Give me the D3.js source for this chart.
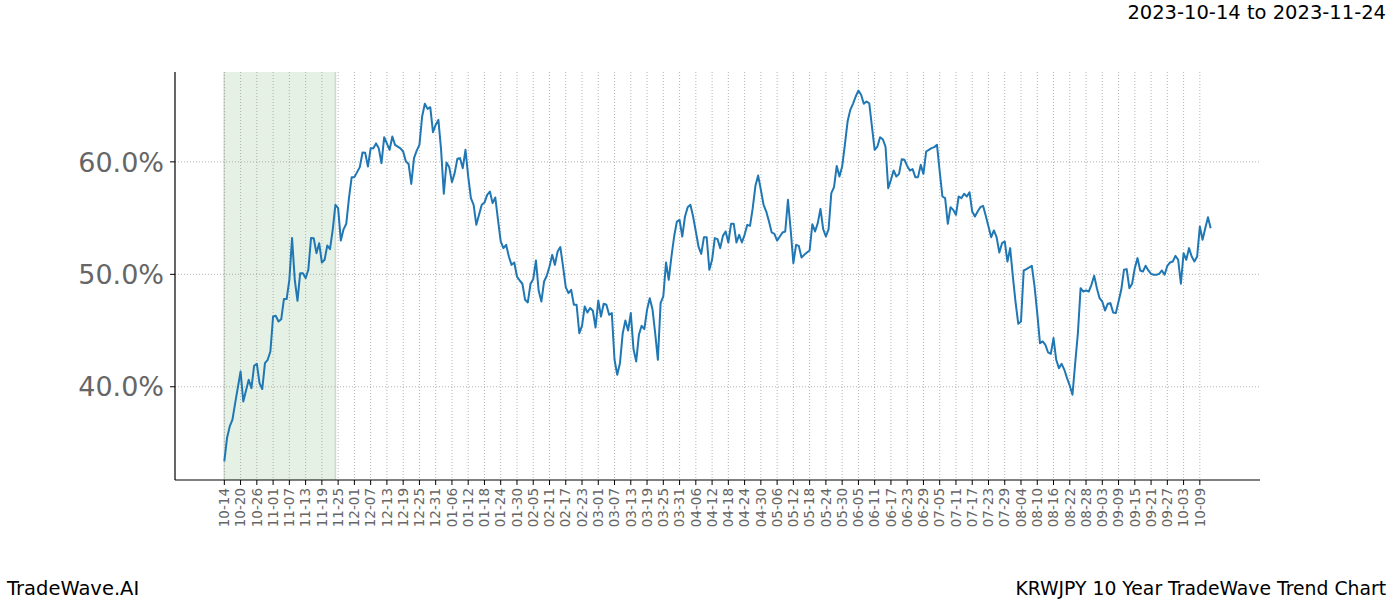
<!DOCTYPE html>
<html><head><meta charset="utf-8">
<script src="https://cdn.jsdelivr.net/npm/d3@7"></script>
<style>
html,body{margin:0;padding:0;background:#fff;}
svg{display:block;font-family:"DejaVu Sans",sans-serif;}
</style></head>
<body>
<svg id="chart" width="1400" height="600"></svg>
<script>
const titleText = "2023-10-14 to 2023-11-24";
const footerLeft = "TradeWave.AI";
const footerRight = "KRWJPY 10 Year TradeWave Trend Chart";
const highlightDays = [0, 41];
const yTicks = [40, 50, 60];
const tickLabels = ["10-14","10-20","10-26","11-01","11-07","11-13","11-19","11-25","12-01","12-07","12-13","12-19","12-25","12-31","01-06","01-12","01-18","01-24","01-30","02-05","02-11","02-17","02-23","03-01","03-07","03-13","03-19","03-25","03-31","04-06","04-12","04-18","04-24","04-30","05-06","05-12","05-18","05-24","05-30","06-05","06-11","06-17","06-23","06-29","07-05","07-11","07-17","07-23","07-29","08-04","08-10","08-16","08-22","08-28","09-03","09-09","09-15","09-21","09-27","10-03","10-09"];
const tickStep = 6;
const days = [0,1,2,3,4,6,7,9,10,11,12,13,14,15,16,17,18,19,20,21,22,23,24,25,26,27,28,29,30,31,32,33,34,35,36,37,38,39,40,41,42,43,44,45,46,47,48,50,51,52,53,54,55,56,57,58,59,
61,62,63,65,66,67,68,69,70,71,72,73,74,75,76,77,78,79,80,81,82,83,84,85,86,87,88,89,90,91,92,93,94,95,96,97,98,99,100,101,102,103,104,105,106,107,108,109,110,111,112,113,114,115,116,117,118,119,120,
121,122,123,124,125,126,127,128,129,130,131,132,133,134,135,136,137,138,139,140,141,142,143,144,145,146,147,148,149,150,151,152,153,154,155,156,157,158,159,160,161,162,163,164,165,166,167,168,169,170,171,172,173,174,175,176,177,178,179,180,181,182,
183,184,185,186,187,188,189,190,191,192,193,194,195,196,197,198,199,200,201,202,203,204,205,206,207,208,209,210,211,212,213,214,215,216,217,218,219,220,221,222,223,224,225,226,227,228,229,230,231,232,233,234,235,236,237,238,239,240,241,242,243,
244,245,246,247,248,249,250,251,252,253,254,255,256,257,258,259,260,261,262,263,264,265,266,267,268,269,270,271,272,273,274,275,276,277,278,279,280,281,282,283,284,285,286,287,288,289,290,291,292,293,294,295,296,298,299,300,301,302,303,
304,305,306,307,308,309,310,311,312,313,314,315,316,317,318,319,320,321,322,323,324,325,326,327,328,329,330,331,332,333,334,335,336,337,338,339,340,341,342,343,344,345,346,347,348,349,350,351,352,353,354,355,356,357,358,359,360,361,362,363,364];
const values = [33.36,35.44,36.47,37.07,38.55,41.36,38.69,40.62,39.88,41.87,42.04,40.33,39.8,42.1,42.4,43.14,46.25,46.31,45.8,46.0,47.8,47.8,49.51,53.22,49.51,47.64,50.1,50.1,49.66,50.4,53.22,53.2,51.88,52.77,51.05,51.29,52.56,52.24,53.96,56.18,55.88,53.0,54.0,54.49,56.77,58.64,58.64,59.53,60.83,60.8,59.58,61.2,61.2,61.64,61.2,59.88,62.19,
61.07,62.25,61.51,61.2,60.92,60.03,59.82,58.04,60.33,61.0,61.51,64.03,65.16,64.71,64.86,62.64,63.29,63.73,61.07,57.16,59.94,59.53,58.2,59.0,60.27,60.33,59.44,61.07,58.7,56.77,56.18,54.4,55.29,56.18,56.38,57.07,57.36,56.33,56.83,54.84,52.92,52.33,52.62,51.58,50.84,51.05,49.8,49.45,49.16,47.73,47.5,49.16,49.57,51.23,48.56,47.58,49.36,49.87,50.7,
51.73,50.84,52.03,52.42,50.7,48.86,48.33,48.62,47.29,47.29,44.77,45.42,47.14,46.6,47.0,46.76,45.27,47.67,46.25,47.38,47.29,46.4,46.55,42.4,41.07,42.1,44.71,45.9,45.0,46.55,43.35,42.25,44.62,45.42,45.13,46.84,47.88,46.9,44.77,42.4,47.44,48.03,51.05,49.51,51.58,53.36,54.69,54.84,53.36,55.14,55.97,56.18,55.14,53.81,52.47,51.82,53.3,53.3,50.4,51.29,53.22,53.13,
52.33,53.42,53.81,52.83,54.49,54.49,52.83,53.51,52.83,53.51,54.4,54.31,55.88,57.87,58.78,57.51,56.18,55.58,54.69,53.72,53.6,53.0,53.36,53.72,53.81,56.62,53.96,51.0,52.62,52.53,51.49,51.73,51.94,52.12,54.46,53.81,54.55,55.82,54.01,53.36,54.01,57.22,57.75,59.64,58.7,59.58,61.51,63.58,64.62,65.16,65.81,66.34,65.96,65.16,65.36,65.21,63.14,61.07,61.36,62.19,62.01,
61.36,57.66,58.4,59.23,58.7,58.93,60.24,60.18,59.64,59.23,59.35,58.64,58.64,59.73,58.93,60.92,61.07,61.22,61.31,61.51,59.14,56.92,56.77,54.49,55.97,55.73,55.29,56.92,56.77,57.16,56.92,57.3,55.58,55.14,55.58,55.97,56.09,55.2,54.25,53.3,53.9,53.3,51.94,52.77,52.92,51.14,52.33,49.8,47.5,45.6,45.8,50.34,50.46,50.76,48.92,46.55,43.88,44.03,43.73,
43.05,42.93,44.33,42.4,41.66,42.04,41.51,40.77,40.09,39.29,42.1,44.77,48.77,48.47,48.56,48.47,49.07,49.87,48.77,47.88,47.58,46.78,47.38,47.44,46.6,46.55,47.58,48.62,50.4,50.46,48.77,49.16,50.55,51.44,50.34,50.25,50.76,50.34,50.04,49.96,49.96,50.04,50.34,49.96,50.76,51.05,51.14,51.64,51.29,49.16,51.88,51.29,52.33,51.58,51.14,51.58,54.25,53.07,54.1,55.08,54.1];

const svg = d3.select("#chart");
const mLeft = 175, mRight = 1260, mTop = 72, mBottom = 480;
const n = Math.min(days.length, values.length);
const lastDay = d3.max(days), firstDay = d3.min(days);
const xpad = (lastDay - firstDay) * 0.05;
const x = d3.scaleLinear().domain([firstDay - xpad, lastDay + xpad]).range([mLeft, mRight]);
const vmin = d3.min(values), vmax = d3.max(values);
const ypad = (vmax - vmin) * 0.05;
const y = d3.scaleLinear().domain([vmin - ypad, vmax + ypad]).range([mBottom, mTop]);

// highlight span
svg.append("rect")
  .attr("x", x(highlightDays[0])).attr("y", mTop)
  .attr("width", x(highlightDays[1]) - x(highlightDays[0])).attr("height", mBottom - mTop)
  .attr("fill", "#e5f1e5");
highlightDays.forEach(d => {
  svg.append("line").attr("x1", x(d)).attr("x2", x(d)).attr("y1", mTop).attr("y2", mBottom)
    .attr("stroke", "#cfd8cf").attr("stroke-width", 1.5);
});

const tickDays = tickLabels.map((_, i) => i * tickStep);
// grid
const grid = svg.append("g").attr("stroke", "#a0a0a0").attr("stroke-width", 0.8).attr("stroke-dasharray", "1,2");
tickDays.forEach(d => grid.append("line").attr("x1", x(d)).attr("x2", x(d)).attr("y1", mTop).attr("y2", mBottom));
yTicks.forEach(v => grid.append("line").attr("x1", mLeft).attr("x2", mRight).attr("y1", y(v)).attr("y2", y(v)));

// line
const pts = d3.range(n).map(i => [days[i], values[i]]);
const line = d3.line().x(d => x(d[0])).y(d => y(d[1]));
svg.append("path").datum(pts).attr("d", line)
  .attr("fill", "none").attr("stroke", "#1f77b4").attr("stroke-width", 2).attr("stroke-linejoin", "round");

// axes spines
svg.append("line").attr("x1", mLeft).attr("x2", mLeft).attr("y1", mTop).attr("y2", mBottom).attr("stroke", "#000").attr("stroke-width", 1.2);
svg.append("line").attr("x1", mLeft).attr("x2", mRight).attr("y1", mBottom).attr("y2", mBottom).attr("stroke", "#000").attr("stroke-width", 1.2);

// x ticks
const xt = svg.append("g");
tickDays.forEach((d, i) => {
  xt.append("line").attr("x1", x(d)).attr("x2", x(d)).attr("y1", mBottom).attr("y2", mBottom + 5).attr("stroke", "#000").attr("stroke-width", 1);
  xt.append("text").attr("transform", `translate(${x(d)},${mBottom + 8}) rotate(-90)`)
    .attr("text-anchor", "end").attr("dy", "0.35em")
    .attr("font-size", 13.5).attr("fill", "#666").text(tickLabels[i]);
});
// y ticks
yTicks.forEach(v => {
  svg.append("line").attr("x1", mLeft - 5).attr("x2", mLeft).attr("y1", y(v)).attr("y2", y(v)).attr("stroke", "#000");
  svg.append("text").attr("x", mLeft - 11).attr("y", y(v)).attr("dy", "0.36em")
    .attr("text-anchor", "end").attr("font-size", 27).attr("fill", "#666").text(v.toFixed(1) + "%");
});

svg.append("text").attr("x", 1386).attr("y", 19).attr("text-anchor", "end").attr("font-size", 19.5).attr("fill", "#000").text(titleText);
svg.append("text").attr("x", 7).attr("y", 595).attr("font-size", 19.5).attr("fill", "#000").text(footerLeft);
svg.append("text").attr("x", 1386).attr("y", 595).attr("text-anchor", "end").attr("font-size", 18.8).attr("fill", "#000").text(footerRight);
</script>
</body></html>
